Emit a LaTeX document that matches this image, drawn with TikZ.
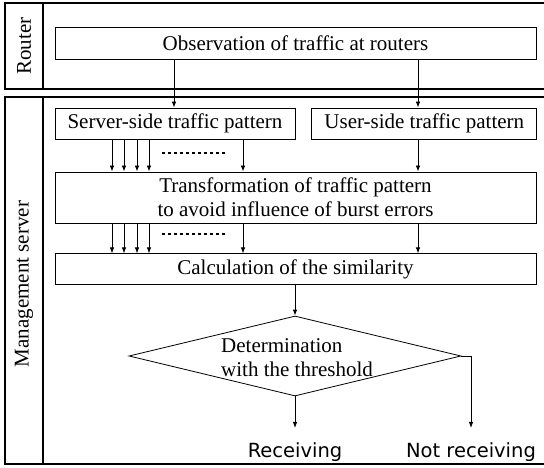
\documentclass[tikz,border=0pt]{standalone}
\usepackage{fontspec}
\setmainfont{Liberation Serif}
\newfontfamily\labelfont{DejaVu Sans}
\usetikzlibrary{shapes,arrows.meta,positioning}

\begin{document}
\begin{tikzpicture}[
    x=1pt, y=-1pt,
    font=\fontsize{21}{24}\selectfont,
    mybox/.style={draw, line width=0.8pt, inner sep=0pt, align=center},
    mydiamond/.style={draw, diamond, line width=0.8pt, inner sep=0pt, minimum width=332pt, minimum height=80pt},
    myedge/.style={-{Latex[length=6pt,width=4.5pt]}, line width=0.8pt},
    myframe/.style={line width=1.1pt},
    mydots/.style={line width=2.6pt, dash pattern=on 2.6pt off 3.4pt},
    mylabel/.style={font=\labelfont\fontsize{19.5}{23}\selectfont, anchor=base, inner xsep=0pt, inner ysep=14pt}
]
\useasboundingbox (0,0) rectangle (544,468);

% lanes
\draw[myframe] (544,3) -- (5,3) -- (5,89) -- (544,89);
\draw[myframe] (43,3) -- (43,89);
\draw[myframe] (544,97) -- (5,97) -- (5,464) -- (544,464);
\draw[myframe] (43,97) -- (43,464);
\node[rotate=90] (router) at (24,46) {Router};
\node[rotate=90] (mgmt) at (24,284) {Management server};

% boxes
\node[mybox, minimum width=481pt, minimum height=32pt] (obs) at (295.5,43) {Observation of traffic at routers};
\node[mybox, minimum width=240pt, minimum height=31pt] (serv) at (175,123.5) {Server-side traffic pattern};
\node[mybox, minimum width=225pt, minimum height=31pt, right=16pt of serv] (user) {User-side traffic pattern};
\node[mybox, minimum width=481pt, minimum height=51pt] (trans) at (295.5,197.5) {Transformation of traffic pattern\\to avoid influence of burst errors};
\node[mybox, minimum width=481pt, minimum height=31pt, below=30pt of trans] (calc) {Calculation of the similarity};
\node[mydiamond] (dec) at (295,356) {};
\node[align=left, inner sep=0pt] (dectext) at (297,358) {Determination\\with the threshold};
\node[mylabel] (recv) at (295,457) {Receiving};
\node[mylabel] (notrecv) at (471,457) {Not receiving};

% connectors
\draw[myedge] (obs.south -| 174,0) -- (serv.north -| 174,0);
\draw[myedge] (obs.south -| 418,0) -- (user.north -| 418,0);
\foreach \x in {112,124,137,149,243}{
  \draw[myedge] (serv.south -| \x,0) -- (trans.north -| \x,0);
  \draw[myedge] (trans.south -| \x,0) -- (calc.north -| \x,0);
}
\draw[myedge] (user.south -| 418,0) -- (trans.north -| 418,0);
\draw[myedge] (trans.south -| 418,0) -- (calc.north -| 418,0);
\draw[mydots] (162,153) -- (227,153);
\draw[mydots] (162,234) -- (227,234);
\draw[myedge] (calc.south -| dec.north) -- (dec.north);
\draw[myedge] (dec.south) -- (recv.north);
\draw[myedge] (dec.east) -| (notrecv.north);
\end{tikzpicture}
\end{document}
